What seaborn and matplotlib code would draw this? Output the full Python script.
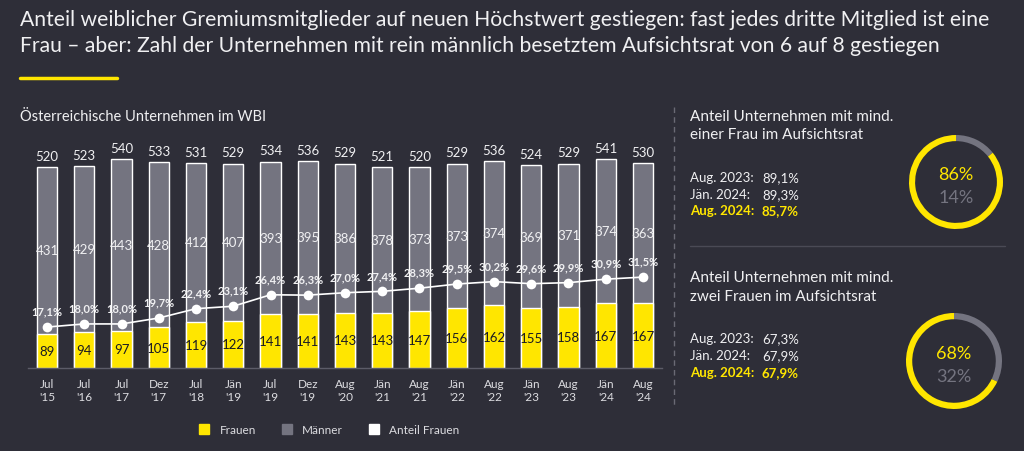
import numpy as np
import pandas as pd
import matplotlib.pyplot as plt
from matplotlib.lines import Line2D
import seaborn as sns

# --- data ---
perioden = ["Jul\n'15", "Jul\n'16", "Jul\n'17", "Dez\n'17", "Jul\n'18", "Jän\n'19",
            "Jul\n'19", "Dez\n'19", "Aug\n'20", "Jän\n'21", "Aug\n'21", "Jän\n'22",
            "Aug\n'22", "Jän\n'23", "Aug\n'23", "Jän\n'24", "Aug\n'24"]
frauen = [89, 94, 97, 105, 119, 122, 141, 141, 143, 143, 147, 156, 162, 155, 158, 167, 167]
maenner = [431, 429, 443, 428, 412, 407, 393, 395, 386, 378, 373, 373, 374, 369, 371, 374, 363]
gesamt = [520, 523, 540, 533, 531, 529, 534, 536, 529, 521, 520, 529, 536, 524, 529, 541, 530]
anteil_frauen = [17.1, 18.0, 18.0, 19.7, 22.4, 23.1, 26.4, 26.3, 27.0, 27.4, 28.3,
                 29.5, 30.2, 29.6, 29.9, 30.9, 31.5]

stichtage = ["Aug. 2023:", "Jän. 2024:", "Aug. 2024:"]
mind_eine_frau = [89.1, 89.3, 85.7]
mind_zwei_frauen = [67.3, 67.9, 67.9]

# --- colours ---
BG = '#2e2e38'
YELLOW = '#ffe600'
GREY = '#747480'
TXT = '#f0f0f2'

sns.set_theme(style='white', rc={'figure.facecolor': BG, 'axes.facecolor': BG,
                                 'savefig.facecolor': BG})
plt.rcParams['font.family'] = ['Lato', 'DejaVu Sans']

W, H = 1024, 452
fig = plt.figure(figsize=(W / 100, H / 100), dpi=100)


def fx(px):
    return px / W


def fy(py):
    return 1 - py / H


# title
fig.text(fx(20), fy(20), 'Anteil weiblicher Gremiumsmitglieder auf neuen Höchstwert gestiegen: '
         'fast jedes dritte Mitglied ist eine', color=TXT, fontsize=15.2, va='center')
fig.text(fx(20), fy(46), 'Frau – aber: Zahl der Unternehmen mit rein männlich besetztem '
         'Aufsichtsrat von 6 auf 8 gestiegen', color=TXT, fontsize=15.2, va='center')
fig.add_artist(Line2D([fx(20), fx(117)], [fy(79), fy(79)], color=YELLOW, lw=2.5))
fig.text(fx(20), fy(117), 'Österreichische Unternehmen im WBI', color=TXT, fontsize=10.5,
         va='center')

# --- bar chart ---
df = pd.DataFrame({'Zeitpunkt': perioden, 'Frauen': frauen, 'Männer': maenner,
                   'Gesamt': gesamt, 'Anteil': anteil_frauen})
idx = np.arange(len(df))

ax = fig.add_axes([fx(28.4), fy(369), fx(633.2), (369 - 140) / H])
sns.barplot(data=df, x='Zeitpunkt', y='Gesamt', color=GREY, saturation=1, width=0.54,
            errorbar=None, ax=ax)
sns.barplot(data=df, x='Zeitpunkt', y='Frauen', color=YELLOW, saturation=1, width=0.54,
            errorbar=None, ax=ax)
ax.set_ylim(0, 592.5)
ax.set_xlim(-0.5, len(df) - 0.5)
ax.set_xlabel('')
ax.set_ylabel('')
ax.set_yticks([])
for s in ['top', 'right', 'left']:
    ax.spines[s].set_visible(False)
ax.spines['bottom'].set_color('#5c5c68')
ax.spines['bottom'].set_linewidth(1)
ax.tick_params(axis='x', colors='#dcdce0', labelsize=8.5, length=0, pad=7)
ax.set_facecolor('none')

for i, row in df.iterrows():
    ax.annotate(str(row['Gesamt']), (i, row['Gesamt']), xytext=(0, 8),
                textcoords='offset points', ha='center', va='center', color=TXT, fontsize=9.5)
    ax.text(i, row['Frauen'] + row['Männer'] / 2, str(row['Männer']), ha='center',
            va='center', color=TXT, fontsize=9.5)
    ax.text(i, row['Frauen'] / 2, str(row['Frauen']), ha='center', va='center',
            color='#1a1a24', fontsize=9.5)

ax2 = ax.twinx()
sns.lineplot(x=idx, y=df['Anteil'], ax=ax2, color='white', marker='o', markersize=7,
             markeredgewidth=0, linewidth=1.2)
ax2.set_ylim(5.3, 71.3)
ax2.set_yticks([])
ax2.set_ylabel('')
for s in ax2.spines.values():
    s.set_visible(False)
for i, v in enumerate(anteil_frauen):
    ax2.annotate(f'{v:.1f}%'.replace('.', ','), (i, v), xytext=(0, 11.5),
                 textcoords='offset points', ha='center', va='center', color=TXT,
                 fontsize=8, fontweight='bold')

handles = [Line2D([], [], marker='s', ls='none', color=c, markersize=7)
           for c in [YELLOW, GREY, 'white']]
fig.legend(handles, ['Frauen', 'Männer', 'Anteil Frauen'], loc='center',
           bbox_to_anchor=(fx(326), fy(431)), ncol=3, frameon=False, fontsize=8.5,
           labelcolor='#dcdce0', handletextpad=0.3, columnspacing=1.6)

# dividers
fig.add_artist(Line2D([fx(674), fx(674)], [fy(108), fy(408)], color='#6a6a75', lw=1,
                      ls=(0, (4, 3))))
fig.add_artist(Line2D([fx(690), fx(1005)], [fy(247), fy(247)], color='#4a4a55', lw=1))


# --- right panel ---
def panel(title_lines, title_y, values, stat_y, center, r):
    for t, y in zip(title_lines, title_y):
        fig.text(fx(690), fy(y), t, color=TXT, fontsize=11, va='center')
    for k, (lab, v, y) in enumerate(zip(stichtage, values, stat_y)):
        last = k == len(values) - 1
        col = YELLOW if last else TXT
        fw = 'bold' if last else 'normal'
        fig.text(fx(690), fy(y), lab, color=col, fontsize=9.5, va='center', fontweight=fw)
        fig.text(fx(762), fy(y), f'{v:.1f}%'.replace('.', ','), color=col, fontsize=9.5,
                 va='center', fontweight=fw)
    cur = values[-1]
    cx, cy = center
    dax = fig.add_axes([fx(cx - r), fy(cy + r), fx(2 * r), 2 * r / H])
    dax.pie([100 - cur, cur], colors=[GREY, YELLOW], startangle=90, counterclock=False,
            radius=1, wedgeprops={'width': 0.13, 'linewidth': 0})
    dax.set_xlim(-1, 1)
    dax.set_ylim(-1, 1)
    dax.set_aspect('equal')
    dax.axis('off')
    fig.text(fx(cx), fy(cy - 8), f'{round(cur)}%', color=YELLOW, fontsize=13,
             ha='center', va='center')
    fig.text(fx(cx), fy(cy + 15), f'{round(100 - cur)}%', color=GREY, fontsize=13,
             ha='center', va='center')


panel(['Anteil Unternehmen mit mind.', 'einer Frau im Aufsichtsrat'], [117, 135],
      mind_eine_frau, [178, 195, 211], (956, 183), 47)
panel(['Anteil Unternehmen mit mind.', 'zwei Frauen im Aufsichtsrat'], [278, 297],
      mind_zwei_frauen, [339, 356, 373], (954, 362), 48)

fig.savefig('out.png', dpi=100, facecolor=BG)
